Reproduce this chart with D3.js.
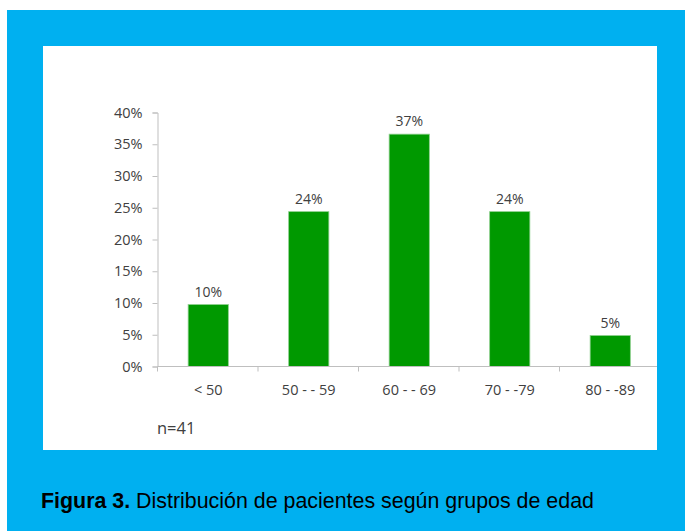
<!DOCTYPE html>
<html>
<head>
<meta charset="utf-8">
<script src="https://cdn.jsdelivr.net/npm/d3@7"></script>
<style>
	body { margin: 0; background: #fff; }
	svg { display: block; }
</style>
</head>
<body>
<div id="chart"></div>
<script>
///////////////////////////////////////////////////////////////////////////////
//// Data /////////////////////////////////////////////////////////////////////
///////////////////////////////////////////////////////////////////////////////

const ageGroups = ["< 50", "50 - - 59", "60 - - 69", "70 - -79", "80 - -89"];
const percents = [9.76, 24.39, 36.59, 24.39, 4.88];
const yTicks = [0, 5, 10, 15, 20, 25, 30, 35, 40];
const sampleNote = "n=41";

///////////////////////////////////////////////////////////////////////////////
//// Set Up ///////////////////////////////////////////////////////////////////
///////////////////////////////////////////////////////////////////////////////

const width = 685,
			height = 531;

const blue = "#00b0f0",
			green = "#009900",
			axisColor = "#bfbfbf",
			textColor = "#404040",
			chartFont = "'Open Sans', 'DejaVu Sans', sans-serif";

const svg = d3.select("#chart").append("svg")
		.attr("width", width)
		.attr("height", height);

// Blue frame
svg.append("rect")
		.attr("x", 7)
		.attr("y", 10)
		.attr("width", width - 7)
		.attr("height", height - 10)
		.attr("fill", blue);

// White chart panel
svg.append("rect")
		.attr("x", 43)
		.attr("y", 46)
		.attr("width", 614)
		.attr("height", 404)
		.attr("fill", "#fff");

svg.append("clipPath")
		.attr("id", "panel-clip")
	.append("rect")
		.attr("x", 43)
		.attr("y", 46)
		.attr("width", 614)
		.attr("height", 404);

const g = svg.append("g")
		.attr("clip-path", "url(#panel-clip)");

///////////////////////////////////////////////////////////////////////////////
//// Scales ///////////////////////////////////////////////////////////////////
///////////////////////////////////////////////////////////////////////////////

const x = d3.scaleBand()
		.domain(ageGroups)
		.range([157.5, 660])
		.paddingInner(0.6)
		.paddingOuter(0.3);

const y = d3.scaleLinear()
		.domain([0, 40])
		.range([366.5, 112.5]);

// Bars
g.selectAll(".bar")
	.data(percents)
	.enter().append("rect")
		.attr("class", "bar")
		.attr("x", (d, i) => x(ageGroups[i]) + 0.5)
		.attr("y", d => y(d))
		.attr("width", x.bandwidth())
		.attr("height", d => y(0) - y(d))
		.attr("fill", green)
		.attr("stroke", "#8fd08f")
		.attr("stroke-width", 0.8);

// Value labels
g.selectAll(".value")
	.data(percents)
	.enter().append("text")
		.attr("class", "value")
		.attr("x", (d, i) => x(ageGroups[i]) + x.bandwidth() / 2 + 0.5)
		.attr("y", d => y(d) - 8)
		.attr("text-anchor", "middle")
		.style("font-family", chartFont)
		.style("font-size", "14px")
		.attr("fill", textColor)
		.text(d => Math.round(d) + "%");

// Y axis
const yAxis = g.append("g")
		.attr("transform", "translate(157.5,0)")
		.call(d3.axisLeft(y).tickValues(yTicks).tickSize(5).tickPadding(10)
			.tickFormat(d => d + "%"));

// X axis with ticks between categories
const xEdges = d3.range(ageGroups.length + 1).map(i => x.range()[0] + i * x.step());
const xAxis = g.append("g")
		.attr("transform", `translate(0,${y(0)})`);
xAxis.append("line")
		.attr("x1", x.range()[0])
		.attr("x2", x.range()[1])
		.attr("stroke", axisColor);
xAxis.selectAll(".edge")
	.data(xEdges)
	.enter().append("line")
		.attr("class", "edge")
		.attr("x1", d => d)
		.attr("x2", d => d)
		.attr("y1", 0)
		.attr("y2", 5)
		.attr("stroke", axisColor);
xAxis.selectAll(".cat")
	.data(ageGroups)
	.enter().append("text")
		.attr("class", "cat")
		.attr("x", d => x(d) + x.bandwidth() / 2 + 0.5)
		.attr("y", 28)
		.attr("text-anchor", "middle")
		.style("font-family", chartFont)
		.style("font-size", "14.5px")
		.attr("fill", textColor)
		.text(d => d);

yAxis.select(".domain").attr("stroke", axisColor);
yAxis.selectAll(".tick line").attr("stroke", axisColor);
yAxis.selectAll(".tick text")
		.style("font-family", chartFont)
		.style("font-size", "14.5px")
		.attr("fill", textColor);

// Sample size note
g.append("text")
		.attr("x", 157)
		.attr("y", 434)
		.style("font-family", chartFont)
		.style("font-size", "16.5px")
		.attr("fill", textColor)
		.text(sampleNote);

///////////////////////////////////////////////////////////////////////////////
//// Caption //////////////////////////////////////////////////////////////////
///////////////////////////////////////////////////////////////////////////////

const caption = svg.append("text")
		.attr("x", 41)
		.attr("y", 508)
		.style("font-family", "'Liberation Sans', Arial, sans-serif")
		.style("font-size", "21.4px")
		.attr("fill", "#000");
caption.append("tspan")
		.style("font-weight", "bold")
		.text("Figura 3.");
caption.append("tspan")
		.text(" Distribución de pacientes según grupos de edad");
</script>
</body>
</html>
